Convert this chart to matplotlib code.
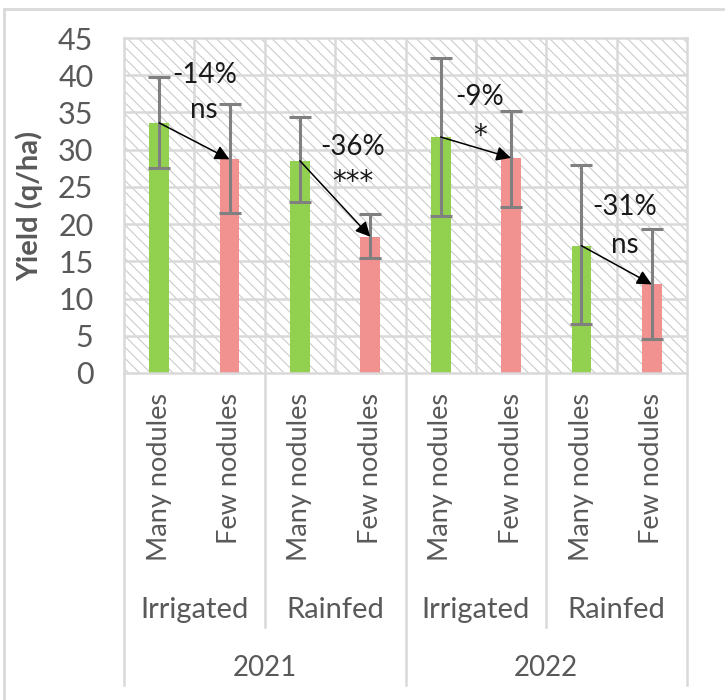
import matplotlib.pyplot as plt
from matplotlib.patches import Rectangle
from matplotlib.lines import Line2D

plt.rcParams['font.family'] = ['Lato', 'DejaVu Sans']
plt.rcParams['hatch.linewidth'] = 0.75

# yield data, two bars per water regime and year
treatments = ['Many nodules', 'Few nodules'] * 4
regimes = ['Irrigated', 'Rainfed', 'Irrigated', 'Rainfed']
years = ['2021', '2022']
yields = [33.6, 28.7, 28.5, 18.3, 31.7, 28.9, 17.1, 11.9]
err_low = [27.5, 21.5, 23.0, 15.4, 21.1, 22.3, 6.6, 4.5]
err_high = [39.7, 36.1, 34.4, 21.3, 42.3, 35.2, 28.0, 19.4]
changes = ['-14%', '-36%', '-9%', '-31%']
signif = ['ns', '***', '*', 'ns']

grey_txt = '#595959'
grid_c = '#d9d9d9'
colors = ['#92d050', '#f19190'] * 4

fig = plt.figure(figsize=(7.25, 7), dpi=100)
# thin frame on the left and top of the figure
fig.add_artist(Line2D([4 / 725, 4 / 725], [0, 1 - 9 / 700], transform=fig.transFigure,
                      color=grid_c, lw=2))
fig.add_artist(Line2D([4 / 725, 1], [1 - 9 / 700, 1 - 9 / 700], transform=fig.transFigure,
                      color=grid_c, lw=2))

ax = fig.add_axes([124 / 725, 1 - 373 / 700, 563 / 725, 335 / 700])

x = list(range(len(yields)))
ax.set_xlim(-0.5, 7.5)
ax.set_ylim(0, 45)

# hatched plot background
ax.add_patch(Rectangle((0, 0), 1, 1, transform=ax.transAxes, facecolor='white',
                       edgecolor='#c8c8c8', hatch='\\\\\\', linewidth=0, zorder=0))
for yv in range(5, 45, 5):
    ax.axhline(yv, color=grid_c, lw=1.8, zorder=1)
for xv in range(1, 8):
    ax.axvline(xv - 0.5, color=grid_c, lw=1.8, zorder=1)

ax.bar(x, yields, width=0.28, color=colors, zorder=2)
lo = [y - l for y, l in zip(yields, err_low)]
hi = [h - y for y, h in zip(yields, err_high)]
ax.errorbar(x, yields, yerr=[lo, hi], fmt='none', ecolor='#808080', elinewidth=2.2,
            capsize=8, capthick=2.2, zorder=3)

# arrows from many to few nodules with change labels
label_pos = [(0.64, 40.0, 35.3), (2.75, 30.4, 25.6), (4.56, 37.1, 31.8), (6.62, 22.3, 17.2)]
for i in range(4):
    a, b = 2 * i, 2 * i + 1
    ax.annotate('', xy=(b, yields[b]), xytext=(a, yields[a]),
                arrowprops=dict(arrowstyle='-|>', color='black', lw=1.1,
                                mutation_scale=22, shrinkA=0, shrinkB=0), zorder=4)
    px, py1, py2 = label_pos[i]
    ax.text(px, py1, changes[i], fontsize=20, color='#1a1a1a', ha='center', va='center', zorder=5)
    ax.text(px, py2, signif[i], fontsize=20, color='#1a1a1a', ha='center', va='center', zorder=5,
            family=['DejaVu Sans'] if '*' in signif[i] else None)

ax.set_yticks(range(0, 50, 5))
ax.tick_params(axis='y', length=0, labelsize=22, labelcolor=grey_txt, pad=22)
ax.set_xticks([])
for sp in ax.spines.values():
    sp.set_color(grid_c)
    sp.set_linewidth(1.8)
ax.set_ylabel('Yield (q/ha)', fontsize=21, fontweight='bold', color=grey_txt)
ax.yaxis.set_label_coords(-0.144, 0.5)

# multi-level category axis below the plot
tr = ax.get_xaxis_transform()
for i, t in enumerate(treatments):
    ax.text(i, -0.06, t, transform=tr, rotation=90, ha='center', va='top',
            fontsize=19.5, color=grey_txt, clip_on=False)
for j, r in enumerate(regimes):
    ax.text(2 * j + 0.5, -0.706, r, transform=tr, ha='center', va='center',
            fontsize=21, color=grey_txt, clip_on=False)
for k, yr in enumerate(years):
    ax.text(4 * k + 1.5, -0.88, yr, transform=tr, ha='center', va='center',
            fontsize=20, color=grey_txt, clip_on=False)
for xv, depth in [(-0.5, -0.93), (1.5, -0.758), (3.5, -0.93), (5.5, -0.758), (7.5, -0.93)]:
    ax.add_line(Line2D([xv, xv], [0, depth], transform=tr, color=grid_c, lw=1.8,
                       clip_on=False))

fig.savefig('out.png', dpi=100)
